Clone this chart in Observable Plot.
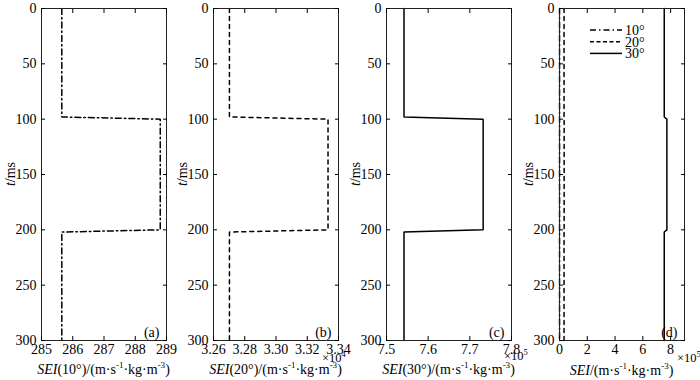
<!DOCTYPE html>
<html><head><meta charset="utf-8">
<script src="https://cdn.jsdelivr.net/npm/d3@7"></script>
<script src="https://cdn.jsdelivr.net/npm/@observablehq/plot@0.6"></script>
<style>
body{margin:0;background:#fff;}
#wrap{position:relative;width:700px;height:380px;font-family:'Liberation Serif',serif;color:#000;overflow:hidden;}
.panel{position:absolute;top:0;}
.lbl{position:absolute;font-size:14px;white-space:nowrap;line-height:1;font-family:'Liberation Serif',serif;}
.xt{text-align:center;}
.mul{font-size:12.5px;}
sup{font-size:9px;vertical-align:0;position:relative;top:-6px;}
.mul sup{font-size:8.5px;top:-5px;}
.yt{transform:translate(-50%,-50%) rotate(-90deg);}
svg text{font-family:'Liberation Serif',serif !important;}
</style>
</head><body>
<div id="wrap"></div>
<script>
// time samples (ms)
const time = [0, 98, 100, 200, 202, 300];
// SEI values for each incidence angle (m·s^-1·kg·m^-3)
const sei10 = [285.65, 285.65, 288.8, 288.8, 285.65, 285.65];
const sei20 = [32702, 32702, 33333, 33333, 32702, 32702];
const sei30 = [754200, 754200, 773200, 773200, 754200, 754200];
const angles = ["10°", "20°", "30°"];
const tTicks = [0, 50, 100, 150, 200, 250, 300];
const ticksA = [285, 286, 287, 288, 289];
const ticksB = [32600, 32800, 33000, 33200, 33400];
const ticksC = [750000, 760000, 770000, 780000];
const ticksD = [0, 200000, 400000, 600000, 800000];
const panelLetters = ["(a)", "(b)", "(c)", "(d)"];

const FONT = "'Liberation Serif', serif";
const dashes = {"10°": "6,3,1.5,3", "20°": "4,4", "30°": null};
const rows = (vals) => time.map((t, i) => ({t, v: vals[i]}));

function lineMark(vals, angle) {
  return Plot.line(rows(vals), {x: "v", y: "t", stroke: "#000", strokeWidth: 1.5,
    strokeDasharray: dashes[angle], strokeLinejoin: "miter"});
}

function panel(series, domain, ticks, fmt, letter) {
  return Plot.plot({
    width: 166, height: 380, marginLeft: 41, marginRight: 0, marginTop: 8, marginBottom: 40,
    style: {background: "transparent", overflow: "visible", fontFamily: FONT, fontSize: "14px", color: "#000"},
    x: {domain}, y: {domain: [0, 300], reverse: true},
    marks: [
      ...series,
      Plot.frame({stroke: "#222", strokeWidth: 1}),
      Plot.axisX({anchor: "bottom", ticks, tickSize: 0, tickPadding: 4, tickFormat: fmt, label: null, fontSize: 14}),
      Plot.axisX({anchor: "bottom", ticks, tickSize: -4, tickFormat: () => "", label: null}),
      Plot.axisX({anchor: "top", ticks, tickSize: -4, tickFormat: () => "", label: null}),
      Plot.axisY({anchor: "left", ticks: tTicks, tickSize: 0, tickPadding: 5, label: null, fontSize: 14}),
      Plot.axisY({anchor: "left", ticks: tTicks, tickSize: -4, tickFormat: () => "", label: null}),
      Plot.axisY({anchor: "right", ticks: tTicks, tickSize: -4, tickFormat: () => "", label: null}),
      Plot.text([letter], {frameAnchor: "bottom-right", dx: -7, dy: -4, fontSize: 14})
    ]
  });
}

const wrap = document.getElementById("wrap");
const lefts = [0, 172, 345, 518];
const plots = [
  panel([lineMark(sei10, "10°")], [285, 289], ticksA, d => d3.format("d")(d), panelLetters[0]),
  panel([lineMark(sei20, "20°")], [32600, 33400], ticksB, d => (d / 1e4).toFixed(2), panelLetters[1]),
  panel([lineMark(sei30, "30°")], [750000, 780000], ticksC, d => (d / 1e5).toFixed(1), panelLetters[2]),
  panel([lineMark(sei10, "10°"), lineMark(sei20, "20°"), lineMark(sei30, "30°")], [0, 900000], ticksD, d => String(d / 1e5), panelLetters[3])
];
plots.forEach((p, i) => {
  const d = document.createElement("div");
  d.className = "panel";
  d.style.left = lefts[i] + "px";
  d.appendChild(p);
  wrap.appendChild(d);
});

function addLabel(html, x, y, cls, w) {
  const d = document.createElement("div");
  d.className = "lbl " + cls;
  d.innerHTML = html;
  d.style.left = x + "px"; d.style.top = y + "px";
  if (w) d.style.width = w + "px";
  wrap.appendChild(d);
}
const unit = "/(m·s<sup>-1</sup>·kg·m<sup>-3</sup>)";
const xTitles = ["<i>SEI</i>(10°)" + unit, "<i>SEI</i>(20°)" + unit, "<i>SEI</i>(30°)" + unit, "<i>SEI</i>" + unit];
xTitles.forEach((h, i) => {
  addLabel(h, lefts[i] + 31, 363 + (i === 3 ? 1 : 0), "xt", 145);
  addLabel("<i>t</i>/ms", lefts[i] + 11, 174, "yt");
});
addLabel("×10<sup>4</sup>", 322, 352, "mul");
addLabel("×10<sup>5</sup>", 504, 350, "mul");
addLabel("×10<sup>5</sup>", 677, 352, "mul");

// legend in panel (d)
const ns = "http://www.w3.org/2000/svg";
const lg = document.createElementNS(ns, "svg");
lg.setAttribute("width", 80); lg.setAttribute("height", 50);
lg.style.position = "absolute"; lg.style.left = "585px"; lg.style.top = "20px";
angles.forEach((a, i) => {
  const y = 10 + i * 11.7;
  const l = document.createElementNS(ns, "line");
  l.setAttribute("x1", 5); l.setAttribute("x2", 37); l.setAttribute("y1", y); l.setAttribute("y2", y);
  l.setAttribute("stroke", "#000"); l.setAttribute("stroke-width", 1.5);
  if (dashes[a]) l.setAttribute("stroke-dasharray", a === "20°" ? "4,2.5" : dashes[a]);
  lg.appendChild(l);
  const t = document.createElementNS(ns, "text");
  t.setAttribute("x", 40); t.setAttribute("y", y + 5);
  t.setAttribute("font-size", 14);
  t.textContent = a;
  lg.appendChild(t);
});
wrap.appendChild(lg);
</script>
</body></html>
